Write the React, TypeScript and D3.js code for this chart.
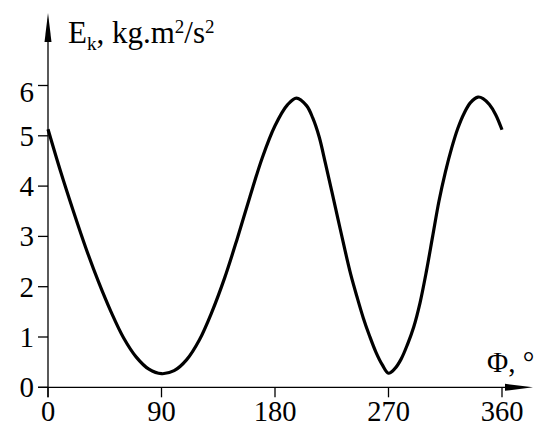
import React from 'react';
import * as d3 from 'd3';

// crank angle, degrees
const phi = [0, 10, 20, 30, 40, 50, 60, 70, 80, 90, 100, 110, 120, 130, 140, 150, 160, 170, 180, 190, 197, 205, 210, 215, 220, 225, 230, 235, 240, 245, 250, 255, 260, 265, 270, 275, 280, 285, 290, 295, 300, 305, 310, 315, 320, 325, 330, 335, 341, 345, 350, 355, 360];
// kinetic energy, kg.m2/s2
const ek = [5.13, 4.29, 3.51, 2.77, 2.1, 1.5, 0.98, 0.6, 0.36, 0.27, 0.33, 0.55, 0.94, 1.5, 2.17, 2.95, 3.78, 4.57, 5.2, 5.62, 5.75, 5.6, 5.35, 4.98, 4.45, 3.9, 3.34, 2.78, 2.25, 1.8, 1.38, 1.02, 0.7, 0.45, 0.28, 0.37, 0.56, 0.85, 1.2, 1.68, 2.3, 3.0, 3.7, 4.27, 4.75, 5.15, 5.45, 5.66, 5.77, 5.74, 5.62, 5.42, 5.12];

const xTicks = [0, 90, 180, 270, 360];
const yTicks = [0, 1, 2, 3, 4, 5, 6];

const font = '"Liberation Serif", "Times New Roman", serif';

export default function App() {
  const width = 540;
  const height = 426;

  const x = d3.scaleLinear().domain([0, 360]).range([48, 502]);
  const y = d3.scaleLinear().domain([0, 6]).range([387.3, 85.5]);

  const points = phi.map((p, i) => [p, ek[i]] as [number, number]);
  const line = d3.line<[number, number]>()
    .x(d => x(d[0]))
    .y(d => y(d[1]))
    .curve(d3.curveCatmullRom.alpha(0.5));

  const x0 = x(0);
  const y0 = y(0);

  return (
    <svg width={width} height={height} style={{ position: 'absolute', left: 0, top: 0, background: '#fff' }}>
      {/* axes */}
      <line x1={x0} x2={x0} y1={y0 + 10} y2={30} stroke="#000" strokeWidth={1.3} />
      <line x1={x0 - 10} x2={515} y1={y0} y2={y0} stroke="#000" strokeWidth={1.3} />
      <path d={`M${x0},13 L${x0 + 3.5},42 L${x0 - 3.5},42 Z`} fill="#000" />
      <path d={`M533,${y0} L505,${y0 - 3.5} L505,${y0 + 3.5} Z`} fill="#000" />

      {/* y ticks */}
      {yTicks.map(t => (
        <g key={'y' + t}>
          <line x1={x0 - 10} x2={x0} y1={y(t)} y2={y(t)} stroke="#000" strokeWidth={1.3} />
          <text x={34} y={y(t) + 10 + (t === 6 ? 6 : 0)} textAnchor="end" fontFamily={font} fontSize={29}>{t}</text>
        </g>
      ))}

      {/* x ticks */}
      {xTicks.map(t => (
        <g key={'x' + t}>
          <line x1={x(t)} x2={x(t)} y1={y0} y2={y0 + 10} stroke="#000" strokeWidth={1.3} />
          <text x={x(t)} y={421} textAnchor="middle" fontFamily={font} fontSize={28.5}>{t}</text>
        </g>
      ))}

      {/* curve */}
      <path d={line(points) || ''} fill="none" stroke="#000" strokeWidth={3.2} strokeLinejoin="round" />

      {/* axis titles */}
      <text x={68} y={42.7} fontFamily={font} fontSize={31}>
        E<tspan fontSize={19} dy={7.3}>k</tspan><tspan dy={-7.3}>, kg.m</tspan><tspan fontSize={19} dy={-9.5}>2</tspan><tspan dy={9.5}>/s</tspan><tspan fontSize={19} dy={-9.5}>2</tspan>
      </text>
      <text x={487} y={372} fontFamily={font} fontSize={29}>Φ, °</text>
    </svg>
  );
}
